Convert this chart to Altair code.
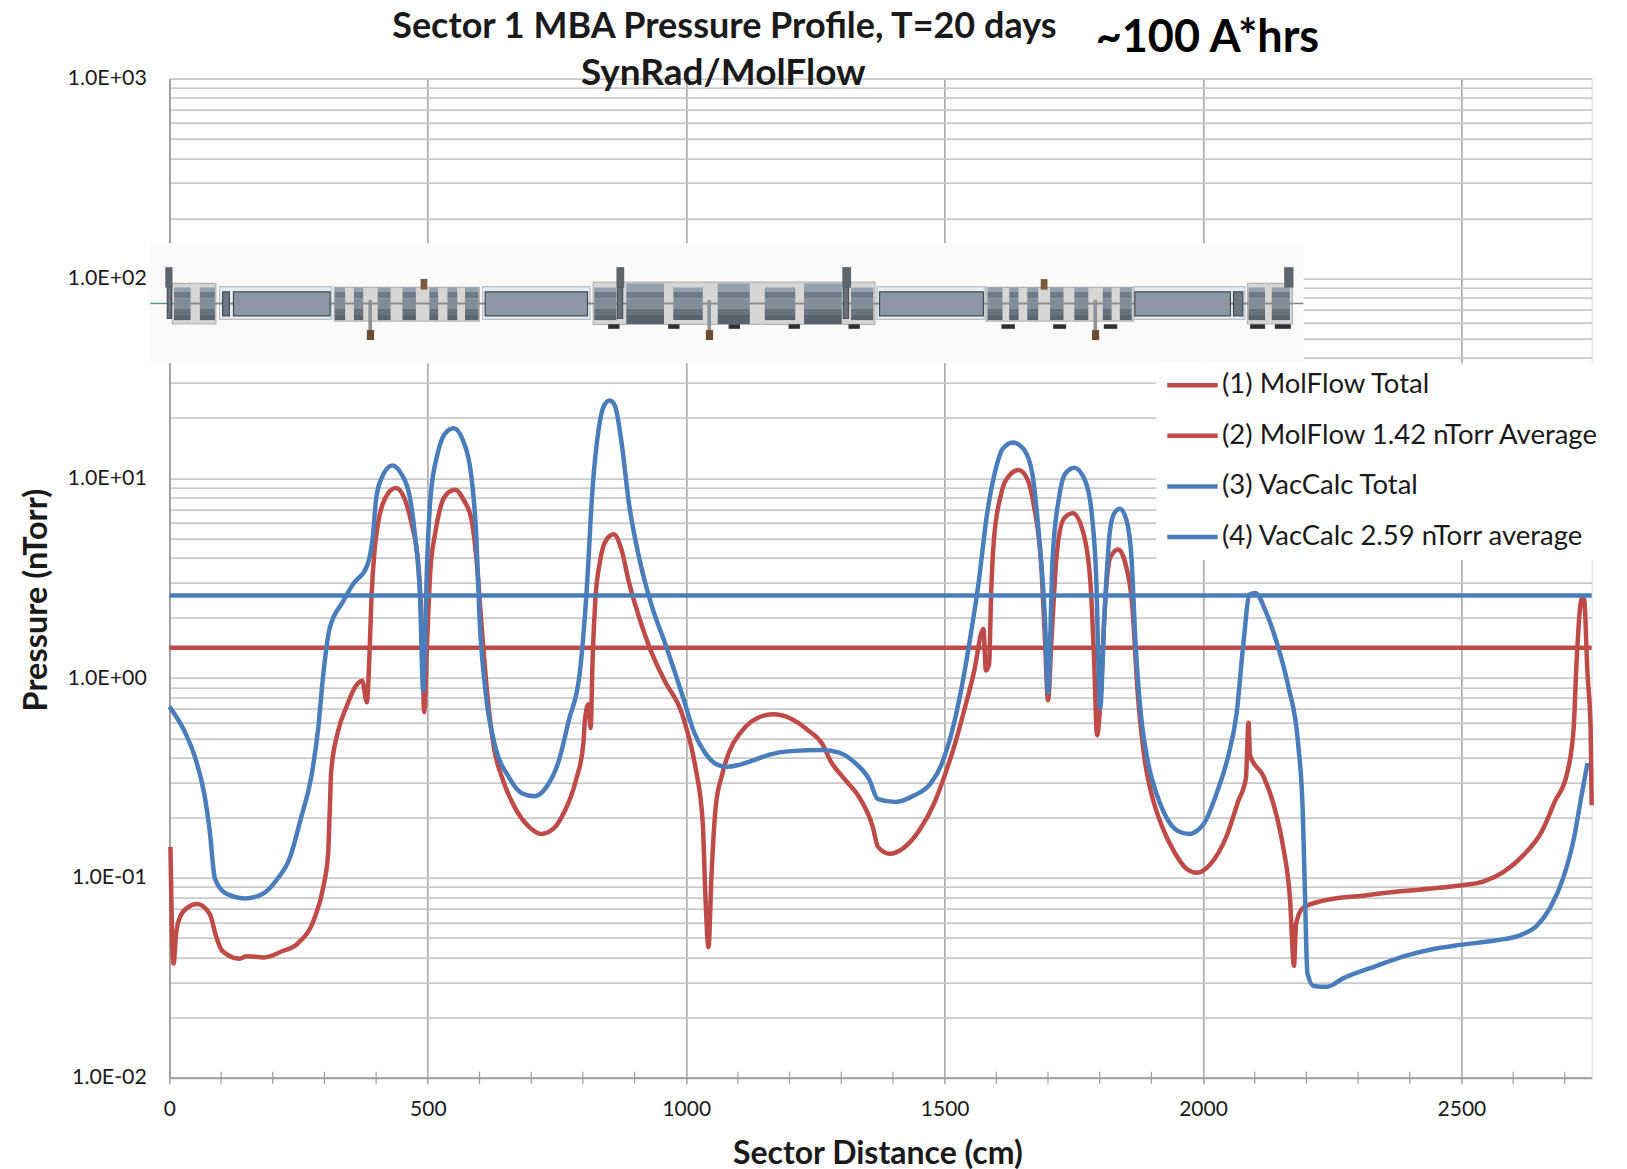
import altair as alt
import pandas as pd

TITLE_LINES = ["Sector 1 MBA Pressure Profile, T=20 days", "SynRad/MolFlow"]
NOTE = ["~100 A*hrs"]
X_TITLE = "Sector Distance (cm)"
Y_TITLE = "Pressure (nTorr)"
SERIES = ["(1) MolFlow Total", "(2) MolFlow 1.42 nTorr Average", "(3) VacCalc Total", "(4) VacCalc 2.59 nTorr average"]
COLORS = ["#BE4B48", "#BE4B48", "#4A7EBB", "#4A7EBB"]

red_x = [2,5,8,13,20,34,54,78,91,102,136,149,183,217,248,281,298,307,310,313,326,343,360,373,382,387,391,397,404,417,438,455,468,482,489,493,499,505,514,526,539,553,570,584,594,604,614,628,645,668,696,719,743,763,787,801,804,811,815,819,824,833,845,860,875,889,909,933,960,991,
 998,1018,1032,1037,1043,1049,1057,1069,1083,1106,1137,1168,1201,1235,1263,1280,1307,1337,1361,1371,1394,1419,1453,1480,1500,1520,1541,1558,1571,1575,1580,1586,1590,1595,1609,1626,1643,1660,1673,1687,1694,1700,1707,1717,1731,1748,1768,1782,1789,1795,1802,1809,1820,1836,1850,1863,1873,1887,1901,1921,1945,1968,1988,
 2014,2046,2068,2083,2088,2091,2117,2139,2155,2168,2176,2180,2194,2233,2310,2388,2452,2497,2542,2581,2620,2655,2681,2704,2717,2723,2733,2737,2744,2750,2752]
red_p = [0.143,0.0526,0.0373,0.0526,0.0631,0.0707,0.074,0.066,0.0503,0.0432,0.0394,0.0405,0.040,0.0428,0.0469,0.0631,0.0908,0.131,0.206,0.340,0.537,0.722,0.908,0.971,0.757,1.28,2.53,4.37,6.01,7.9,8.93,7.9,6.01,3.64,1.60,0.674,1.60,3.48,5.25,7.38,8.46,8.77,7.73,6.30,3.99,1.84,0.887,0.448,0.311,0.226,0.180,0.166,0.176,0.211,0.311,0.469,0.617,0.740,0.562,1.28,2.42,3.81,4.90,5.24,4.37,3.03,2.01,1.34,0.951,0.675,
 0.589,0.356,0.188,0.083,0.0449,0.104,0.226,0.325,0.427,0.537,0.630,0.659,0.630,0.550,0.469,0.382,0.311,0.248,0.180,0.143,0.132,0.140,0.176,0.237,0.325,0.469,0.740,1.11,1.68,1.76,1.09,1.17,2.65,4.79,8.28,10.4,11.0,9.93,7.21,3.64,1.60,0.775,1.60,4.18,6.30,6.69,5.37,3.03,1.28,0.518,0.809,2.01,3.99,4.40,3.72,2.31,0.887,0.391,0.259,0.180,0.134,0.111,0.106,
 0.117,0.163,0.242,0.316,0.597,0.410,0.322,0.221,0.143,0.0803,0.0363,0.059,0.0710,0.0769,0.0815,0.0859,0.0889,0.0917,0.0959,0.107,0.130,0.170,0.242,0.330,0.558,1.24,2.51,2.51,1.04,0.558,0.231]

blue_x = [0,30,51,68,78,88,108,146,180,207,234,254,275,288,298,310,336,356,382,394,400,410,431,448,465,475,485,491,499,505,519,533,550,567,584,594,600,611,631,655,682,706,729,753,773,794,807,819,831,841,852,862,875,889,909,933,960,994,
 1015,1035,1059,1079,1134,1161,1201,1263,1296,1324,1354,1371,1405,1439,1473,1493,1514,1531,1551,1565,1582,1598,1612,1632,1653,1670,1683,1694,1700,1709,1721,1734,1751,1772,1784,1793,1801,1809,1820,1829,1839,1852,1861,1870,1880,1894,1911,1931,1951,1972,
 2001,2026,2049,2065,2078,2090,2101,2123,2146,2165,2184,2193,2197,2202,2214,2239,2272,2336,2388,2446,2497,2568,2613,2646,2671,2697,2717,2733,2744]
blue_p = [0.72,0.537,0.391,0.259,0.172,0.0995,0.084,0.0789,0.083,0.0973,0.128,0.197,0.325,0.562,1.06,1.77,2.42,2.97,3.61,5.24,7.9,9.93,11.6,10.6,8.09,5.24,2.53,0.867,3.99,7.9,13.3,16.7,17.8,15.7,10.4,5.0,2.01,0.887,0.448,0.325,0.265,0.256,0.284,0.382,0.617,1.06,2.65,9.06,17.9,23.1,24.5,23.1,15.0,7.55,3.99,2.31,1.47,0.80,
 0.537,0.428,0.370,0.360,0.391,0.414,0.431,0.437,0.424,0.382,0.311,0.248,0.240,0.257,0.297,0.365,0.537,0.847,1.68,2.90,6.59,10.9,14.0,15.1,14.0,10.4,5.0,2.01,0.847,3.99,7.9,10.6,11.3,9.7,6.89,3.33,0.706,2.01,5.49,6.73,7.05,6.15,4.18,1.40,0.644,0.373,0.259,0.197,0.172,0.166,
 0.186,0.264,0.410,0.667,1.48,2.62,2.67,2.10,1.41,0.908,0.469,0.212,0.0877,0.0333,0.0288,0.0285,0.0315,0.0363,0.0405,0.0441,0.0462,0.0487,0.0516,0.0577,0.0704,0.100,0.155,0.264,0.376]

avg_x = [0, 2752]
molflow_avg = [1.42, 1.42]
vaccalc_avg = [2.59, 2.59]

x_major = [0, 500, 1000, 1500, 2000, 2500]
x_minor = [100, 200, 300, 400, 600, 700, 800, 900, 1100, 1200, 1300, 1400, 1600, 1700, 1800, 1900, 2100, 2200, 2300, 2400, 2600, 2700]
y_major = [0.01, 0.1, 1, 10, 100, 1000]
y_major_labels = ["1.0E-02", "1.0E-01", "1.0E+00", "1.0E+01", "1.0E+02", "1.0E+03"]

# beamline schematic pieces, in chart units
short_magnets = [(9,41),(59,88),(320,340),(357,375),(403,428),(451,477),(503,520),(538,557),(572,598),
                 (822,865),(975,1032),(1152,1211),(1319,1362),
                 (1583,1612),(1625,1643),(1660,1681),(1704,1730),(1751,1778),(1806,1823),(1839,1862),
                 (2088,2120),(2133,2168)]
tall_magnets = [(884,957),(1061,1123),(1228,1301)]
light_boxes = [(6,90,94.5,59.2),(319,600,90.2,61.2),(820,1365,96,59),(1580,1865,90.2,61.2),(2086,2173,94.5,59.2)]
pipe_boxes = [(97,314),(606,814),(1369,1578),(1866,2081)]
dark_pipes = [(124,311),(611,809),(1374,1575),(1868,2053)]
small_quads = [(103,116),(2059,2077)]
pumps = [(-4,4),(867,877),(1304,1314)]
hooks = [(-8,6),(865,880),(1302,1319),(2157,2175)]
stands = [(849,871),(965,987),(1082,1104),(1198,1220),(1314,1336),(1610,1636),(1710,1735),(1808,1834),(2091,2120),(2139,2170)]
brown_low = [(382,396),(1038,1052),(1785,1799)]
stems_low = [(385,392),(1041,1048),(1788,1795)]
brown_high = [(486,499),(1686,1699)]
band_levels_short = [90.2, 85.8, 79.5, 70.8, 65.6, 61.9]
band_levels_tall = [94.5, 85.8, 79.5, 70.8, 65.6, 59.2]
band_fills = ["#93a0ad", "#6f7c88", "#818d98", "#66727c", "#59646e"]

parts = []
def part(x0, x1, top, bot, fill, stroke="transparent"):
    parts.append(dict(x0=x0, x1=x1, top=top, bot=bot, fill=fill, stroke=stroke))

part(-36.6, 2195, 150, 37.7, "#fafafa")
part(1910, 2820, 37.7, 3.9, "#ffffff")
part(-37, -2, 75.6, 74.4, "#4f9c83")
part(2173, 2194, 75.6, 74.4, "#808080")
for a, b, t, u in light_boxes:
    part(a, b, t, u, "#d6d6d6", "#b4b4b4")
for a, b in pipe_boxes:
    part(a, b, 91, 62.5, "#e4eef4", "#b9bfc4")
part(6, 2173, 75.8, 74.2, "#8c8c8c")
for a, b in dark_pipes:
    part(a, b, 85.8, 65, "#8b98a4", "#414c57")
for a, b in small_quads:
    part(a, b, 85.8, 65, "#6d7883", "#414c57")
for a, b in short_magnets:
    for i, f in enumerate(band_fills):
        part(a, b, band_levels_short[i], band_levels_short[i + 1], f)
for a, b in tall_magnets:
    for i, f in enumerate(band_fills):
        part(a, b, band_levels_tall[i], band_levels_tall[i + 1], f)
for a, b in pumps:
    part(a, b, 90.2, 63.1, "#6a7079", "#4d535b")
for a, b in hooks:
    part(a, b, 114, 90, "#5e656d")
for a, b in stands:
    part(a, b, 59, 56, "#2c2f33")
for a, b in stems_low:
    part(a, b, 78, 55, "#8d9297")
for a, b in brown_low:
    part(a, b, 55.2, 49.2, "#6b4c2f")
for a, b in brown_high:
    part(a, b, 99.3, 88, "#7a5a3a")
parts_df = pd.DataFrame(parts)

lines_df = pd.concat([
    pd.DataFrame({"x": red_x, "p": red_p, "series": SERIES[0]}),
    pd.DataFrame({"x": avg_x, "p": molflow_avg, "series": SERIES[1]}),
    pd.DataFrame({"x": blue_x, "p": blue_p, "series": SERIES[2]}),
    pd.DataFrame({"x": avg_x, "p": vaccalc_avg, "series": SERIES[3]}),
])

FONT = "Lato"
INK = "#1a1a1a"
PLOT_W, PLOT_H = 1422.3, 999

x_scale = alt.Scale(domain=[0, 2752], nice=False, zero=False)
y_scale = alt.Scale(type="log", domain=[0.01, 1000], nice=False)

y_values = [round(m * d, 4) for d in y_major[:-1] for m in range(1, 10)] + [y_major[-1]]
label_expr = " : ".join(f"abs(datum.value-{v})<{v*1e-3} ? '{l}'" for v, l in zip(y_major, y_major_labels)) + " : ''"

x_axis = alt.Axis(values=x_major, title=X_TITLE, grid=True, gridColor="#9b9b9b", gridWidth=1.4,
                  domainColor="#a0a0a0", domainWidth=2, tickColor="#9b9b9b", tickWidth=1.4, tickSize=6,
                  labelFont=FONT, labelFontSize=21, labelColor=INK, labelPadding=15, format="d", labelFlush=False,
                  titleFont=FONT, titleFontSize=32, titleFontWeight="bold", titleColor=INK,
                  titleX=708, titleY=76, titleAlign="center", titleBaseline="middle")
y_axis = alt.Axis(values=y_values, title=Y_TITLE, grid=True, gridColor="#cacaca", gridWidth=1.8,
                  domainColor="#9b9b9b", domainWidth=1.4, ticks=False, labelOverlap=False, labelExpr=label_expr,
                  labelFont=FONT, labelFontSize=21.4, labelColor=INK, labelPadding=23, labelBound=False, labelFlush=False,
                  titleFont=FONT, titleFontSize=32.5, titleFontWeight="bold", titleColor=INK,
                  titleX=-133, titleY=521, titleAlign="center", titleBaseline="middle", titleAngle=270)

schematic = alt.Chart(parts_df).mark_rect(strokeWidth=1.2).encode(
    x=alt.X("x0:Q", scale=x_scale, axis=x_axis),
    x2="x1:Q",
    y=alt.Y("top:Q", scale=y_scale, axis=y_axis),
    y2="bot:Q",
    fill=alt.Fill("fill:N", scale=None),
    stroke=alt.Stroke("stroke:N", scale=None),
)

lines = alt.Chart(lines_df).mark_line(strokeWidth=4.5, strokeJoin="round", strokeCap="butt", interpolate="monotone").encode(
    x=alt.X("x:Q", scale=x_scale, axis=x_axis),
    y=alt.Y("p:Q", scale=y_scale, axis=y_axis),
    color=alt.Color("series:N", sort=None, scale=alt.Scale(domain=SERIES, range=COLORS),
                    legend=alt.Legend(title=None, orient="none", legendX=995.6, legendY=279, padding=0,
                                      symbolType="stroke", symbolSize=2540, symbolStrokeWidth=4.5,
                                      labelFont=FONT, labelFontSize=27.5, labelColor=INK, labelOffset=2,
                                      rowPadding=9.6, labelLimit=500)),
)

minor = alt.Chart(pd.DataFrame({"x": x_minor})).mark_rule(color="#9b9b9b", strokeWidth=1.2).encode(
    x=alt.X("x:Q", scale=x_scale, axis=x_axis),
    y=alt.value(PLOT_H - 6),
    y2=alt.value(PLOT_H + 6),
)

note = alt.Chart(pd.DataFrame({"t": NOTE})).mark_text(
    font=FONT, fontSize=45, fontWeight="bold", color="#000000", align="center", baseline="middle"
).encode(x=alt.value(1038), y=alt.value(-41), text="t:N")

title_line1 = alt.Chart(pd.DataFrame({"t": TITLE_LINES[:1]})).mark_text(
    font=FONT, fontSize=36, fontWeight="bold", color=INK, align="center", baseline="middle"
).encode(x=alt.value(555), y=alt.value(-52), text="t:N")
title_line2 = alt.Chart(pd.DataFrame({"t": TITLE_LINES[1:]})).mark_text(
    font=FONT, fontSize=37, fontWeight="bold", color=INK, align="center", baseline="middle"
).encode(x=alt.value(554), y=alt.value(-5), text="t:N")

chart = alt.layer(schematic, lines, minor, note, title_line1, title_line2).properties(
    width=PLOT_W, height=PLOT_H,
    autosize=alt.AutoSizeParams(type="none"),
    padding={"left": 161.4, "top": 70.7, "right": 20, "bottom": 96},
).configure_view(stroke=None).configure(background="white")

chart.save("out.html", embed_options={"renderer": "svg", "actions": False})
